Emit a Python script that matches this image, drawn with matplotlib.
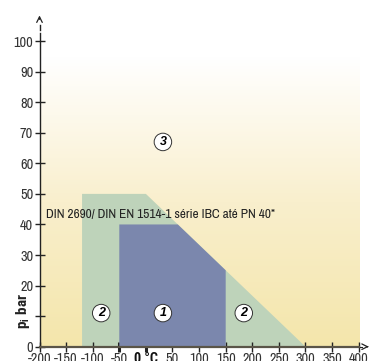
import matplotlib
matplotlib.use("Agg")
import matplotlib.pyplot as plt
import numpy as np
from matplotlib.patches import Polygon
from matplotlib.colors import LinearSegmentedColormap

# Data
x_ticks = [-200, -150, -100, -50, 0, 50, 100, 150, 200, 250, 300, 350, 400]
x_tick_labels = ["-200", "-150", "-100", "-50", "0 °C", "50", "100", "150", "200", "250", "300", "350", "400"]
y_ticks = [0, 10, 20, 30, 40, 50, 60, 70, 80, 90, 100]
y_tick_labels = ["0", "", "20", "30", "40", "50", "60", "70", "80", "90", "100"]
region2_x = [-120, -120, 0, 300]
region2_y = [0, 50, 50, 0]
region1_x = [-50, -50, 60, 150, 150]
region1_y = [0, 40, 40, 25, 0]
labels = ["3", "2", "1", "2"]
label_x = [32, -84, 32, 184]
label_y = [67, 11, 11, 11]
note_text = "DIN 2690/ DIN EN 1514-1 série IBC até PN 40*"

font = ['Archivo Narrow', 'Roboto Condensed', 'DejaVu Sans']
plt.rcParams['font.family'] = font
plt.rcParams['mathtext.fontset'] = 'custom'
plt.rcParams['mathtext.bf'] = 'Roboto Condensed:bold'
plt.rcParams['mathtext.rm'] = 'Roboto Condensed'
plt.rcParams['mathtext.it'] = 'Roboto Condensed:bold'

fig = plt.figure(figsize=(3.69, 3.61), dpi=100)
ax = fig.add_axes([39.5/369, 14.3/361, 1 - 39.5/369, 110*3.056/361])
ax.set_xlim(-200, 419.4)
ax.set_ylim(0, 110)
for s in ax.spines.values():
    s.set_visible(False)

# gradient background
cmap = LinearSegmentedColormap.from_list("bg", [(0, "#f4e6ab"), (0.5, "#f9efcd"), (0.8, "#fdf9ec"), (1.0, "#ffffff")])
grad = np.linspace(0, 1, 256).reshape(-1, 1)
ax.imshow(grad, extent=(-200, 400, 0, 95), origin="lower", cmap=cmap, aspect="auto", zorder=0)

ax.add_patch(Polygon(list(zip(region2_x, region2_y)), closed=True, facecolor="#bed3ba", edgecolor="none", zorder=1))
ax.add_patch(Polygon(list(zip(region1_x, region1_y)), closed=True, facecolor="#7b87ad", edgecolor="none", zorder=2))

for t, xx, yy in zip(labels, label_x, label_y):
    ax.text(xx, yy, t, ha="center", va="center", fontsize=9, fontweight="bold", style="italic",
            family=['Liberation Sans', 'DejaVu Sans'],
            bbox=dict(boxstyle="circle,pad=0.22", facecolor="white", edgecolor="#333333", linewidth=0.7), zorder=5)

ax.text(-188, 43.1, note_text, ha="left", va="center", fontsize=9.6, color="#222222", zorder=5)

# axes lines
ax.plot([-200, -200], [0, 102.5], color="#222222", lw=1.0, zorder=6, clip_on=False)
ax.plot([-200, -200], [103.6, 105.4], color="#222222", lw=1.0, zorder=6, clip_on=False)
ax.annotate("", xy=(-200, 109.3), xytext=(-200, 106.2),
            arrowprops=dict(arrowstyle="->", color="#222222", lw=0.9, mutation_scale=10), annotation_clip=False)
ax.plot([-200, 400], [0, 0], color="#5a5548", lw=1.6, zorder=6, clip_on=False)
ax.plot([403, 407], [0, 0], color="#222222", lw=0.8, zorder=6, clip_on=False)
ax.annotate("", xy=(419, 0), xytext=(410, 0),
            arrowprops=dict(arrowstyle="->", color="#222222", lw=0.9, mutation_scale=10), annotation_clip=False)

ax.set_xticks(x_ticks)
ax.set_xticklabels(x_tick_labels)
ax.set_yticks(y_ticks)
ax.set_yticklabels(y_tick_labels)
ax.tick_params(axis="both", direction="inout", length=7, width=1.0, color="#222222",
               labelsize=10.3, labelcolor="#333333", pad=1)
ax.tick_params(axis="x", pad=0)
for lbl in ax.get_xticklabels():
    if "°C" in lbl.get_text():
        lbl.set_fontweight("bold")
        lbl.set_fontfamily(['Roboto Condensed', 'DejaVu Sans'])
        lbl.set_color("#111111")
for tk in ax.xaxis.get_major_ticks():
    if tk.get_loc() in (-50, 0):
        tk.tick1line.set_markeredgewidth(2.2)
        tk.tick2line.set_visible(False)
ax.xaxis.set_ticks_position("bottom")
ax.yaxis.set_ticks_position("left")
ax.set_zorder(3)

fig.text(23/369, 1 - 311/361, r"$\mathbf{p_i\ bar}$", rotation=90, ha="center", va="center",
         fontsize=11, color="#222222")

fig.savefig("out.png", dpi=100, facecolor="white")
